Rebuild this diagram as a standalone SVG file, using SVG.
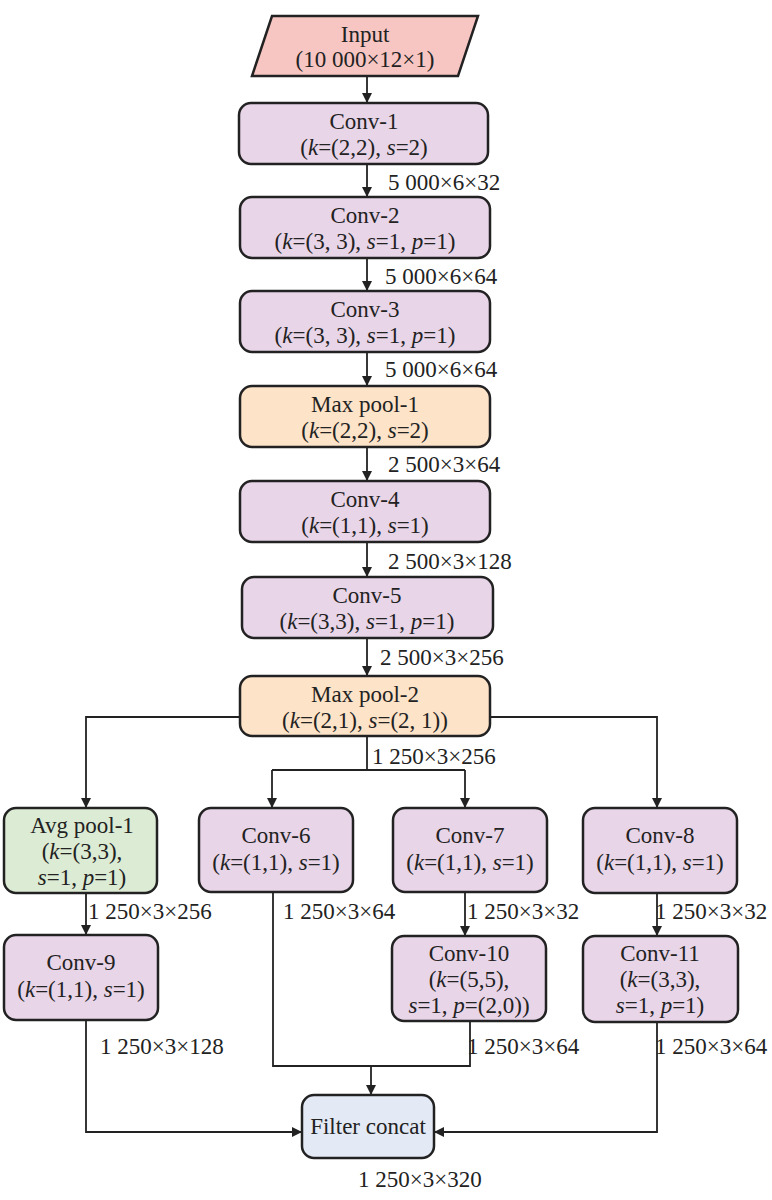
<svg xmlns="http://www.w3.org/2000/svg" width="772" height="1200" viewBox="0 0 772 1200" font-family="'Liberation Serif', 'Times New Roman', serif">
<style>
text{font-family:'Liberation Serif','Times New Roman',serif;font-size:23px;fill:#222;}
.c{text-anchor:middle}
.n{stroke:#222;stroke-width:2.5}
.conv{fill:#e8d5e8}
.pool{fill:#fde3c8}
.avg{fill:#dcebd3}
.fc{fill:#e4eaf5}
.l{fill:none;stroke:#222;stroke-width:1.8}
</style>
<defs><marker id="a" viewBox="0 0 10 10" refX="10" refY="5" markerWidth="10" markerHeight="10" markerUnits="userSpaceOnUse" orient="auto"><path d="M0,0L10,5L0,10z" fill="#222"/></marker></defs>
<rect width="772" height="1200" fill="#fff"/>
<g id="connectors">
<path class="l" d="M367,76V103" marker-end="url(#a)"/>
<path class="l" d="M367,164V197" marker-end="url(#a)"/>
<path class="l" d="M367,258V291" marker-end="url(#a)"/>
<path class="l" d="M367,352V386" marker-end="url(#a)"/>
<path class="l" d="M367,447V481" marker-end="url(#a)"/>
<path class="l" d="M367,542V577" marker-end="url(#a)"/>
<path class="l" d="M367,638V676" marker-end="url(#a)"/>
<path class="l" d="M240,717H86V808" marker-end="url(#a)"/>
<path class="l" d="M490,717H657V808" marker-end="url(#a)"/>
<path class="l" d="M367,736V770"/>
<path class="l" d="M272,770H465"/>
<path class="l" d="M272,770V808" marker-end="url(#a)"/>
<path class="l" d="M465,770V808" marker-end="url(#a)"/>
<path class="l" d="M86,893V935" marker-end="url(#a)"/>
<path class="l" d="M465,892V936" marker-end="url(#a)"/>
<path class="l" d="M657,893V936" marker-end="url(#a)"/>
<path class="l" d="M273,892V1066H470V1021"/>
<path class="l" d="M371,1066V1095" marker-end="url(#a)"/>
<path class="l" d="M86,1020V1132H302" marker-end="url(#a)"/>
<path class="l" d="M657,1022V1132H434" marker-end="url(#a)"/>
<text x="388" y="190">5 000×6×32</text>
<text x="385" y="284">5 000×6×64</text>
<text x="385" y="377">5 000×6×64</text>
<text x="388" y="472">2 500×3×64</text>
<text x="388" y="569">2 500×3×128</text>
<text x="380" y="665">2 500×3×256</text>
<text x="372" y="764">1 250×3×256</text>
<text x="88" y="919">1 250×3×256</text>
<text x="283" y="919">1 250×3×64</text>
<text x="467" y="919">1 250×3×32</text>
<text x="655" y="919">1 250×3×32</text>
<text x="100" y="1054">1 250×3×128</text>
<text x="467" y="1054">1 250×3×64</text>
<text x="655" y="1054">1 250×3×64</text>
<text x="358" y="1187">1 250×3×320</text>
</g>
<g id="input"><path class="n" d="M272,16H478L458,76H252Z" fill="#f7c6c2"/><text class="c" x="365" y="42">Input</text><text class="c" x="365" y="67">(10 000×12×1)</text></g>
<g id="conv1"><rect class="n conv" x="239" y="103" width="249" height="61" rx="12"/><text class="c" x="364" y="129">Conv-1</text><text class="c" x="364" y="155">(<tspan font-style="italic">k</tspan>=(2,2), <tspan font-style="italic">s</tspan>=2)</text></g>
<g id="conv2"><rect class="n conv" x="240" y="197" width="250" height="61" rx="12"/><text class="c" x="365" y="223">Conv-2</text><text class="c" x="365" y="249">(<tspan font-style="italic">k</tspan>=(3, 3), <tspan font-style="italic">s</tspan>=1, <tspan font-style="italic">p</tspan>=1)</text></g>
<g id="conv3"><rect class="n conv" x="240" y="291" width="250" height="61" rx="12"/><text class="c" x="365" y="317">Conv-3</text><text class="c" x="365" y="343">(<tspan font-style="italic">k</tspan>=(3, 3), <tspan font-style="italic">s</tspan>=1, <tspan font-style="italic">p</tspan>=1)</text></g>
<g id="maxpool1"><rect class="n pool" x="240" y="386" width="250" height="61" rx="12"/><text class="c" x="365" y="412">Max pool-1</text><text class="c" x="365" y="438">(<tspan font-style="italic">k</tspan>=(2,2), <tspan font-style="italic">s</tspan>=2)</text></g>
<g id="conv4"><rect class="n conv" x="240" y="481" width="250" height="61" rx="12"/><text class="c" x="365" y="507">Conv-4</text><text class="c" x="365" y="533">(<tspan font-style="italic">k</tspan>=(1,1), <tspan font-style="italic">s</tspan>=1)</text></g>
<g id="conv5"><rect class="n conv" x="242" y="577" width="251" height="61" rx="12"/><text class="c" x="367" y="603">Conv-5</text><text class="c" x="367" y="629">(<tspan font-style="italic">k</tspan>=(3,3), <tspan font-style="italic">s</tspan>=1, <tspan font-style="italic">p</tspan>=1)</text></g>
<g id="maxpool2"><rect class="n pool" x="240" y="676" width="250" height="60" rx="12"/><text class="c" x="365" y="702">Max pool-2</text><text class="c" x="365" y="728">(<tspan font-style="italic">k</tspan>=(2,1), <tspan font-style="italic">s</tspan>=(2, 1))</text></g>
<g id="avgpool1"><rect class="n avg" x="4" y="808" width="153" height="85" rx="12"/><text class="c" x="82" y="833">Avg pool-1</text><text class="c" x="82" y="859">(<tspan font-style="italic">k</tspan>=(3,3),</text><text class="c" x="82" y="885"><tspan font-style="italic">s</tspan>=1, <tspan font-style="italic">p</tspan>=1)</text></g>
<g id="conv6"><rect class="n conv" x="199" y="808" width="154" height="84" rx="12"/><text class="c" x="276" y="843">Conv-6</text><text class="c" x="276" y="870">(<tspan font-style="italic">k</tspan>=(1,1), <tspan font-style="italic">s</tspan>=1)</text></g>
<g id="conv7"><rect class="n conv" x="393" y="808" width="154" height="84" rx="12"/><text class="c" x="470" y="843">Conv-7</text><text class="c" x="470" y="870">(<tspan font-style="italic">k</tspan>=(1,1), <tspan font-style="italic">s</tspan>=1)</text></g>
<g id="conv8"><rect class="n conv" x="583" y="808" width="154" height="85" rx="12"/><text class="c" x="660" y="843">Conv-8</text><text class="c" x="660" y="870">(<tspan font-style="italic">k</tspan>=(1,1), <tspan font-style="italic">s</tspan>=1)</text></g>
<g id="conv9"><rect class="n conv" x="4" y="935" width="154" height="85" rx="12"/><text class="c" x="81" y="970">Conv-9</text><text class="c" x="81" y="997">(<tspan font-style="italic">k</tspan>=(1,1), <tspan font-style="italic">s</tspan>=1)</text></g>
<g id="conv10"><rect class="n conv" x="392" y="936" width="154" height="85" rx="12"/><text class="c" x="469" y="961">Conv-10</text><text class="c" x="469" y="987">(<tspan font-style="italic">k</tspan>=(5,5),</text><text class="c" x="469" y="1013"><tspan font-style="italic">s</tspan>=1, <tspan font-style="italic">p</tspan>=(2,0))</text></g>
<g id="conv11"><rect class="n conv" x="583" y="936" width="155" height="86" rx="12"/><text class="c" x="660" y="961">Conv-11</text><text class="c" x="660" y="987">(<tspan font-style="italic">k</tspan>=(3,3),</text><text class="c" x="660" y="1013"><tspan font-style="italic">s</tspan>=1, <tspan font-style="italic">p</tspan>=1)</text></g>
<g id="filterconcat"><rect class="n fc" x="302" y="1095" width="132" height="63" rx="12"/><text class="c" x="368" y="1134">Filter concat</text></g>
</svg>
